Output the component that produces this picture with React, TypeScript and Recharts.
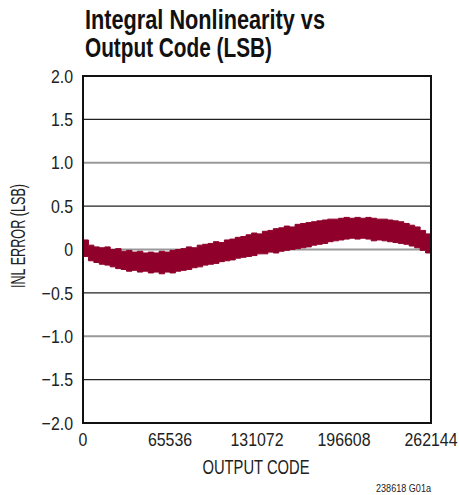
import React from 'react';
import { ComposedChart, Area, XAxis, YAxis, CartesianGrid, ReferenceArea } from 'recharts';

// output codes (x), sampled every 4096 codes
const codes = [
  0, 4096, 8192, 12288, 16384, 20480, 24576, 28672, 32768, 36864,
  40960, 45056, 49152, 53248, 57344, 61440, 65536, 69632, 73728, 77824,
  81920, 86016, 90112, 94208, 98304, 102400, 106496, 110592, 114688, 118784,
  122880, 126976, 131072, 135168, 139264, 143360, 147456, 151552, 155648, 159744,
  163840, 167936, 172032, 176128, 180224, 184320, 188416, 192512, 196608, 200704,
  204800, 208896, 212992, 217088, 221184, 225280, 229376, 233472, 237568, 241664,
  245760, 249856, 253952, 258048, 262144,
];

// upper edge of the INL band (LSB)
const inlHigh = [
  0.11, 0.05, 0.03, 0.02, 0.03, 0.0, 0.01, -0.02, -0.01, -0.03,
  -0.02, -0.04, -0.03, -0.04, -0.02, -0.03, -0.01, 0.0, 0.01, 0.03,
  0.02, 0.05, 0.06, 0.07, 0.09, 0.08, 0.11, 0.12, 0.14, 0.15,
  0.17, 0.19, 0.18, 0.21, 0.22, 0.24, 0.25, 0.27, 0.26, 0.29,
  0.3, 0.31, 0.32, 0.33, 0.34, 0.35, 0.35, 0.36, 0.37, 0.36,
  0.37, 0.36, 0.37, 0.36, 0.35, 0.35, 0.34, 0.33, 0.32, 0.3,
  0.28, 0.26, 0.22, 0.18, 0.11,
];

// lower edge of the INL band (LSB)
const inlLow = [
  -0.08, -0.13, -0.15, -0.17, -0.18, -0.2, -0.22, -0.23, -0.25, -0.24,
  -0.26, -0.25, -0.27, -0.26, -0.28, -0.26, -0.27, -0.25, -0.24, -0.23,
  -0.21, -0.2, -0.18, -0.17, -0.16, -0.14, -0.13, -0.12, -0.1, -0.09,
  -0.08, -0.07, -0.05, -0.05, -0.03, -0.04, -0.02, -0.01, 0.0, 0.01,
  0.02, 0.03, 0.05, 0.06, 0.07, 0.09, 0.1, 0.11, 0.12, 0.13,
  0.12, 0.13, 0.12, 0.1, 0.11, 0.1, 0.09, 0.08, 0.07, 0.06,
  0.04, 0.02, -0.01, -0.04, -0.08,
];

const xTicks = [0, 65536, 131072, 196608, 262144];
const yTicks = [-2, -1.5, -1, -0.5, 0, 0.5, 1, 1.5, 2];
const darkGrid = [1.5, 0.5, -0.5, -1.5];
const grayGrid = [1, 0, -1];

const data = codes.map((code, i) => ({ code, band: [inlLow[i], inlHigh[i]] }));

const FONT = '"Liberation Sans", Arial, sans-serif';
const BAND = '#8f002b';
const TEXT = '#222';

const fmtY = (v: number) => {
  if (v === 0) return '0';
  const s = Math.abs(v).toFixed(1);
  return v < 0 ? `\u2212${s}` : s;
};

// narrow the Arial-metric font to look like the condensed face of the datasheet
const XTick = (props: any) => {
  const { x, y, payload } = props;
  return (
    <text
      transform={`translate(${x},${y}) scale(0.86,1)`}
      textAnchor="middle"
      dy="0.71em"
      fontFamily={FONT}
      fontSize={18.5}
      fill={TEXT}
    >
      {payload.value}
    </text>
  );
};

const YTick = (props: any) => {
  const { x, y, payload } = props;
  return (
    <text
      transform={`translate(${x},${y}) scale(0.86,1)`}
      textAnchor="end"
      dy="0.36em"
      fontFamily={FONT}
      fontSize={18.5}
      fill={TEXT}
    >
      {fmtY(payload.value)}
    </text>
  );
};

const App: React.FC = () => {
  return (
    <div style={{ position: 'absolute', left: 0, top: 0, width: 459, height: 495, background: '#fff' }}>
      <ComposedChart
        width={459}
        height={495}
        data={data}
        margin={{ top: 76, right: 28, bottom: 42, left: 23 }}
      >
        <CartesianGrid
          vertical={false}
          horizontalValues={darkGrid}
          stroke="#222"
          strokeWidth={1.2}
        />
        <CartesianGrid
          vertical={false}
          horizontalValues={grayGrid}
          stroke="#999"
          strokeWidth={2}
        />
        <XAxis
          type="number"
          dataKey="code"
          domain={[0, 262144]}
          ticks={xTicks}
          tickLine={false}
          axisLine={false}
          tickMargin={4}
          height={30}
          interval={0}
          tick={<XTick />}
        />
        <YAxis
          type="number"
          domain={[-2, 2]}
          ticks={yTicks}
          tickLine={false}
          axisLine={false}
          tickMargin={4}
          width={60}
          interval={0}
          tick={<YTick />}
        />
        <Area
          type="stepAfter"
          dataKey="band"
          stroke={BAND}
          strokeWidth={1}
          fill={BAND}
          fillOpacity={1}
          isAnimationActive={false}
          dot={false}
          activeDot={false}
        />
        <ReferenceArea x1={0} x2={262144} y1={-2} y2={2} fill="none" stroke="#111" strokeWidth={2} ifOverflow="visible" />
      </ComposedChart>
      <svg
        width={459}
        height={495}
        style={{ position: 'absolute', left: 0, top: 0, pointerEvents: 'none' }}
      >
        <text x={85} y={29} fontFamily={FONT} fontWeight="bold" fontSize={28} fill="#111" textLength={240} lengthAdjust="spacingAndGlyphs">
          Integral Nonlinearity vs
        </text>
        <text x={85} y={57} fontFamily={FONT} fontWeight="bold" fontSize={28} fill="#111" textLength={187} lengthAdjust="spacingAndGlyphs">
          Output Code (LSB)
        </text>
        <text
          x={0}
          y={0}
          transform="translate(18,236) rotate(-90)"
          textAnchor="middle"
          dominantBaseline="central"
          fontFamily={FONT}
          fontSize={20}
          fill={TEXT}
          textLength={104}
          lengthAdjust="spacingAndGlyphs"
        >
          INL ERROR (LSB)
        </text>
        <text x={256} y={474} textAnchor="middle" fontFamily={FONT} fontSize={20} fill={TEXT} textLength={107} lengthAdjust="spacingAndGlyphs">
          OUTPUT CODE
        </text>
        <text x={431} y={492} textAnchor="end" fontFamily={FONT} fontSize={11} fill={TEXT} textLength={55} lengthAdjust="spacingAndGlyphs">
          238618 G01a
        </text>
      </svg>
    </div>
  );
};

export default App;
